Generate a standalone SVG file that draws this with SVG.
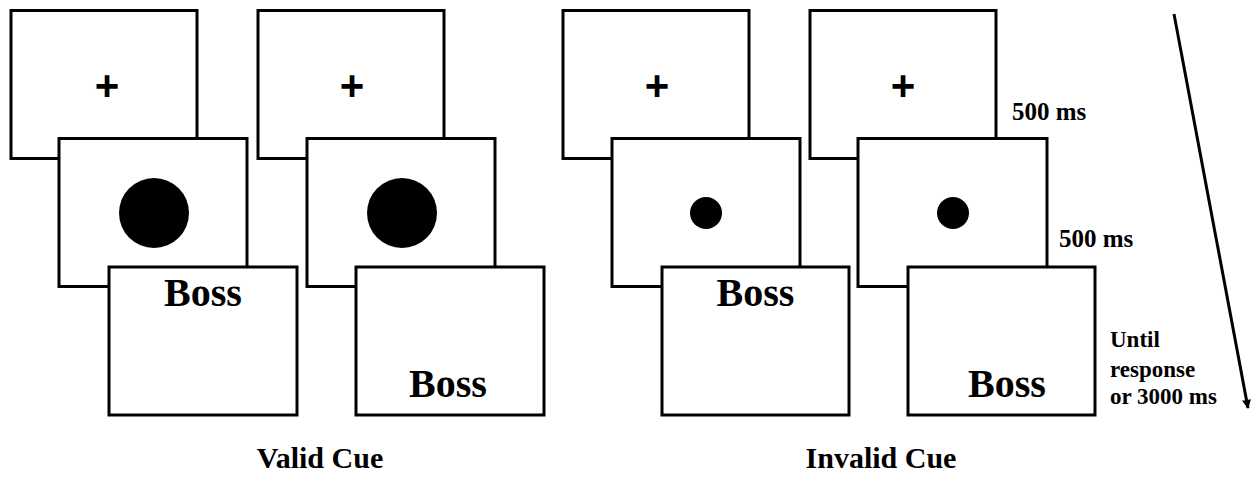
<svg xmlns="http://www.w3.org/2000/svg" width="1255" height="477" viewBox="0 0 1255 477">
<style>
.scr{fill:#fff;stroke:#000;stroke-width:3}
.fix{font-family:"Liberation Sans",Arial,sans-serif;font-weight:bold;font-size:42px;text-anchor:middle;fill:#000}
.word{font-family:"Liberation Serif","Times New Roman",serif;font-weight:bold;font-size:40px;text-anchor:middle;fill:#000}
.lbl{font-family:"Liberation Serif","Times New Roman",serif;font-weight:bold;font-size:30px;text-anchor:middle;fill:#000}
.time{font-family:"Liberation Serif","Times New Roman",serif;font-weight:bold;font-size:25px;fill:#000}
.time2{font-family:"Liberation Serif","Times New Roman",serif;font-weight:bold;font-size:23px;fill:#000}
.dot{fill:#000;filter:url(#soft)}
</style>
<defs>
<filter id="soft" x="-20%" y="-20%" width="140%" height="140%"><feGaussianBlur stdDeviation="0.6"/></filter>
<marker id="head" viewBox="0 0 10 10" refX="9" refY="5" markerWidth="3.4" markerHeight="3" orient="auto" markerUnits="strokeWidth">
<path d="M0,0 L10,5 L0,10 z" fill="#000"/>
</marker>
</defs>

<g id="valid-fixation"><rect class="scr" x="11" y="10.5" width="186" height="148"/><text class="fix" x="107" y="100">+</text></g>
<g id="valid-cue"><rect class="scr" x="59" y="138.5" width="188" height="148"/><circle class="dot" cx="154" cy="213" r="35"/></g>
<g id="valid-target-top"><rect class="scr" x="109" y="267" width="188" height="148"/><text class="word" x="203" y="306">Boss</text></g>

<g id="valid-fixation-2"><rect class="scr" x="258" y="10.5" width="186" height="148"/><text class="fix" x="352" y="100">+</text></g>
<g id="valid-cue-2"><rect class="scr" x="307" y="138.5" width="188" height="148"/><circle class="dot" cx="402" cy="213" r="35"/></g>
<g id="valid-target-bottom"><rect class="scr" x="356" y="267" width="188" height="148"/><text class="word" x="448" y="397">Boss</text></g>

<g id="invalid-fixation"><rect class="scr" x="563" y="10.5" width="186" height="148"/><text class="fix" x="657" y="100">+</text></g>
<g id="invalid-cue"><rect class="scr" x="612" y="138.5" width="188" height="148"/><circle class="dot" cx="706" cy="213" r="16"/></g>
<g id="invalid-target-top"><rect class="scr" x="662" y="267" width="187" height="148"/><text class="word" x="755.5" y="306">Boss</text></g>

<g id="invalid-fixation-2"><rect class="scr" x="810" y="10.5" width="186" height="148"/><text class="fix" x="903" y="100">+</text></g>
<g id="invalid-cue-2"><rect class="scr" x="858" y="138.5" width="189" height="148"/><circle class="dot" cx="953" cy="213" r="16"/></g>
<g id="invalid-target-bottom"><rect class="scr" x="908" y="267" width="187" height="148"/><text class="word" x="1007" y="397">Boss</text></g>

<g id="labels">
<text class="lbl" x="320" y="468">Valid Cue</text>
<text class="lbl" x="881" y="468">Invalid Cue</text>
<text class="time" x="1012" y="120">500 ms</text>
<text class="time" x="1059" y="247">500 ms</text>
<text class="time2" x="1110" y="347">Until</text>
<text class="time2" x="1110" y="377">response</text>
<text class="time2" x="1110" y="404">or 3000 ms</text>
</g>

<g id="connectors">
<line x1="1174" y1="14" x2="1248" y2="408" stroke="#000" stroke-width="3" marker-end="url(#head)"/>
</g>
</svg>
